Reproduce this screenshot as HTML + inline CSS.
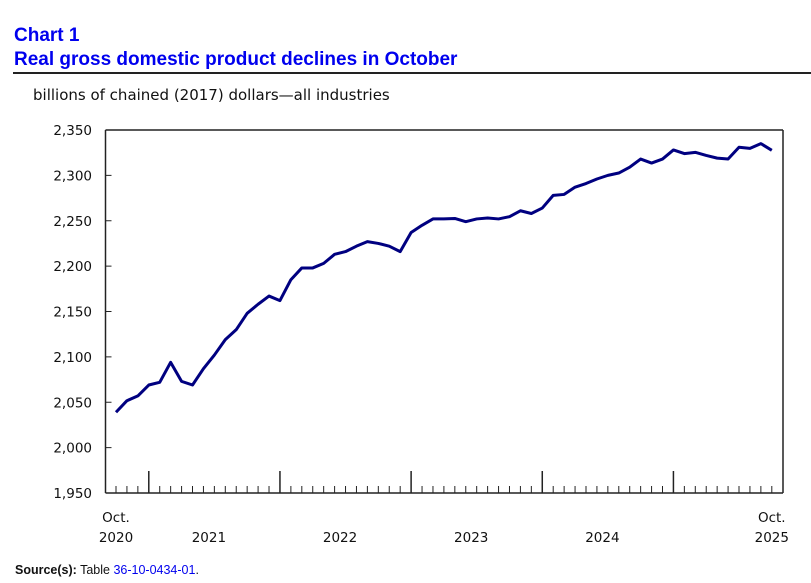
<!DOCTYPE html>
<html><head><meta charset="utf-8"><style>
body{margin:0;background:#fff;width:811px;height:583px;overflow:hidden;position:relative;font-family:"Liberation Sans",sans-serif}
.t{position:absolute;left:14px;color:#0000ee;font-weight:bold;font-size:19px;font-family:"Liberation Sans",Arial,sans-serif}
</style></head><body>
<div class="t" style="top:25px">Chart 1</div>
<div class="t" style="top:49px">Real gross domestic product declines in October</div>
<div style="position:absolute;left:13px;top:72px;width:798px;height:2px;background:#222"></div>
<div style="position:absolute;left:33px;top:86px;font-family:'DejaVu Sans',sans-serif;font-size:15px;color:#111">billions of chained (2017) dollars—all industries</div>
<svg id="c" width="811" height="583" style="position:absolute;left:0;top:0"></svg>
<div style="position:absolute;left:15px;top:563px;font-size:12.5px;color:#111"><b>Source(s):</b> Table <span style="color:#0000ee">36-10-0434-01</span>.</div>
<script>
const values=[2039,2051.7,2057,2069,2072,2094,2073,2069,2087,2102,2119,2130,2148,2158,2167,2162,2185,2198,2198,2203,2213,2216,2222,2227,2225,2222,2216,2237,2245,2252,2252,2252.5,2249,2252,2253,2252,2254.5,2261,2258,2264,2278,2279,2287,2291,2296,2300,2302.6,2309,2318,2313.6,2318,2328,2324,2325.4,2322,2319,2318,2331,2329.7,2335,2327.6];
const yTicks=[1950,2000,2050,2100,2150,2200,2250,2300,2350];
const yTickLabels=["1,950","2,000","2,050","2,100","2,150","2,200","2,250","2,300","2,350"];
const yearLabels=["2021","2022","2023","2024"];
const NS="http://www.w3.org/2000/svg";
const svg=document.getElementById('c');
const X0=116,DX=10.93,Y0=493,YS=0.9075,L=105.5,R=783;
const x=i=>X0+i*DX, y=v=>Y0-(v-1950)*YS;
function mk(t,a,p){const e=document.createElementNS(NS,t);for(const k in a)e.setAttribute(k,a[k]);(p||svg).appendChild(e);return e;}
let e;
const YT=y(2350);
e=mk('line',{x1:L,y1:YT,x2:R,y2:YT,stroke:'#222','stroke-width':1.5});


e=mk('line',{x1:L,y1:YT,x2:L,y2:Y0,stroke:'#222','stroke-width':1.5});


e=mk('line',{x1:R,y1:YT,x2:R,y2:Y0,stroke:'#222','stroke-width':1.5});


e=mk('line',{x1:L,y1:Y0,x2:R,y2:Y0,stroke:'#222','stroke-width':1.5});


yTicks.forEach((v,i)=>{
 e=mk('line',{x1:L,y1:y(v),x2:L+6,y2:y(v),stroke:'#222','stroke-width':1});
 
 
 e=mk('text',{x:92,y:y(v)+5,'text-anchor':'end','font-family':'DejaVu Sans, sans-serif','font-size':13.5,fill:'#111'});
 e.textContent=yTickLabels[i];
 
 
});
values.forEach((v,i)=>{
 const maj=(i%12===3);
 e=mk('line',{x1:x(i),y1:maj?Y0-22:Y0-7,x2:x(i),y2:Y0,stroke:'#222','stroke-width':maj?1.5:1});
 
 
});
function lab(t,xx,yy,n){e=mk('text',{x:xx,y:yy,'text-anchor':'middle','font-family':'DejaVu Sans, sans-serif','font-size':13.5,fill:'#111'});e.textContent=t;

}
lab('Oct.',x(0),522,'x-label-start-month');lab('2020',x(0),542,'x-label-start-year');
lab('Oct.',x(values.length-1),522,'x-label-end-month');lab('2025',x(values.length-1),542,'x-label-end-year');
yearLabels.forEach((t,k)=>lab(t,x(3+12*k+5.5),542,'x-year-label'));
e=mk('polyline',{points:values.map((v,i)=>x(i)+','+y(v)).join(' '),fill:'none',stroke:'#000080','stroke-width':3,'stroke-linejoin':'round'});


</script>
</body></html>
